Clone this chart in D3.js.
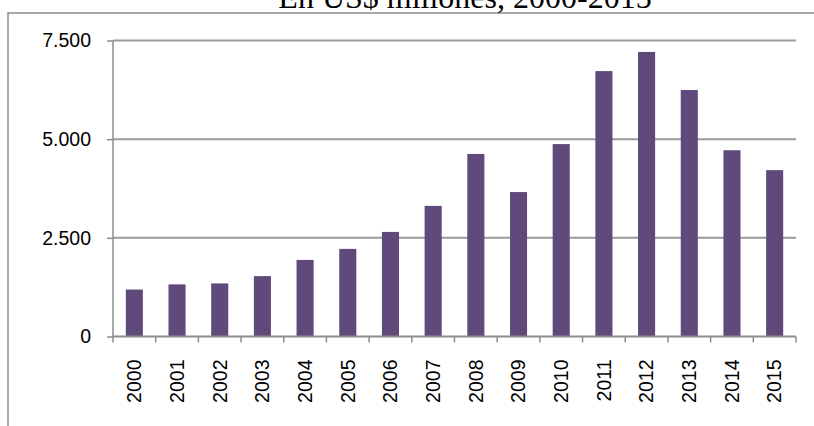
<!DOCTYPE html>
<html>
<head>
<meta charset="utf-8">
<script src="https://cdn.jsdelivr.net/npm/d3@7"></script>
<style>
  body { margin: 0; background: #fff; }
  svg { display: block; }
</style>
</head>
<body>
<script>
var years = ["2000", "2001", "2002", "2003", "2004", "2005", "2006", "2007",
             "2008", "2009", "2010", "2011", "2012", "2013", "2014", "2015"];
var values = [1190, 1320, 1345, 1530, 1940, 2220, 2650, 3310,
              4625, 3660, 4875, 6725, 7210, 6245, 4720, 4215];
var yTicks = [0, 2500, 5000, 7500];
var title = "En US$ millones, 2000-2015";

var svgWidth = 814;
var svgHeight = 426;

var margin = { top: 40.5, right: 18, bottom: 89.5, left: 113 };
var width = svgWidth - margin.left - margin.right;
var height = svgHeight - margin.top - margin.bottom;

var svg = d3.select("body")
  .append("svg")
  .attr("width", svgWidth)
  .attr("height", svgHeight);

// outer frame (left and top edges visible)
svg.append("path")
  .attr("d", "M8,426 V13 H814")
  .attr("fill", "none")
  .attr("stroke", "#8c8c8c")
  .attr("stroke-width", 1.5);

// title, mostly cut off at the top like in the source
svg.append("text")
  .attr("x", 465)
  .attr("y", 8)
  .attr("text-anchor", "middle")
  .attr("font-family", "Liberation Serif, serif")
  .attr("font-size", 32)
  .attr("fill", "#000")
  .text(title);

var chartGroup = svg.append("g")
  .attr("transform", `translate(${margin.left}, ${margin.top})`);

var x = d3.scaleBand()
  .domain(years)
  .range([0, width])
  .paddingInner(0.6)
  .paddingOuter(0.3);

var y = d3.scaleLinear()
  .domain([0, 7500])
  .range([height, 0]);

// gridlines
chartGroup.append("g")
  .selectAll("line")
  .data(yTicks.filter(d => d > 0))
  .enter()
  .append("line")
  .attr("x1", 0)
  .attr("x2", width)
  .attr("y1", d => y(d))
  .attr("y2", d => y(d))
  .attr("stroke", "#9a9a9a")
  .attr("stroke-width", 2);

// bars
chartGroup.selectAll("rect")
  .data(values)
  .enter()
  .append("rect")
  .attr("x", (d, i) => x(years[i]))
  .attr("y", d => y(d))
  .attr("width", x.bandwidth())
  .attr("height", d => height - y(d))
  .attr("fill", "#604a7b");

// y axis
var leftAxis = d3.axisLeft(y)
  .tickValues(yTicks)
  .tickSize(6)
  .tickPadding(16)
  .tickFormat(d => d === 0 ? "0" : d3.format(",")(d).replace(",", "."));

var yAxis = chartGroup.append("g").call(leftAxis);
yAxis.selectAll("path, line").attr("stroke", "#8c8c8c").attr("stroke-width", 1.5);
yAxis.select(".domain").attr("d", `M0,${height}V0`);
yAxis.selectAll("text")
  .attr("font-family", "Liberation Sans, Arial, sans-serif")
  .attr("font-size", 19.5)
  .attr("fill", "#000");

// x axis: ticks sit on category boundaries
var xAxisG = chartGroup.append("g")
  .attr("transform", `translate(0, ${height})`);

xAxisG.append("line")
  .attr("x1", 0).attr("x2", width)
  .attr("y1", 0).attr("y2", 0)
  .attr("stroke", "#8c8c8c")
  .attr("stroke-width", 2);

xAxisG.selectAll(".bound")
  .data(d3.range(years.length + 1))
  .enter()
  .append("line")
  .attr("class", "bound")
  .attr("x1", d => d * width / years.length)
  .attr("x2", d => d * width / years.length)
  .attr("y1", 0)
  .attr("y2", 6)
  .attr("stroke", "#8c8c8c")
  .attr("stroke-width", 1.5);

xAxisG.selectAll(".lbl")
  .data(years)
  .enter()
  .append("text")
  .attr("class", "lbl")
  .attr("transform", d => `translate(${x(d) + x.bandwidth() / 2}, 23) rotate(-90)`)
  .attr("text-anchor", "end")
  .attr("dy", "0.35em")
  .attr("font-family", "Liberation Sans, Arial, sans-serif")
  .attr("font-size", 19.5)
  .attr("fill", "#000")
  .text(d => d);
</script>
</body>
</html>
